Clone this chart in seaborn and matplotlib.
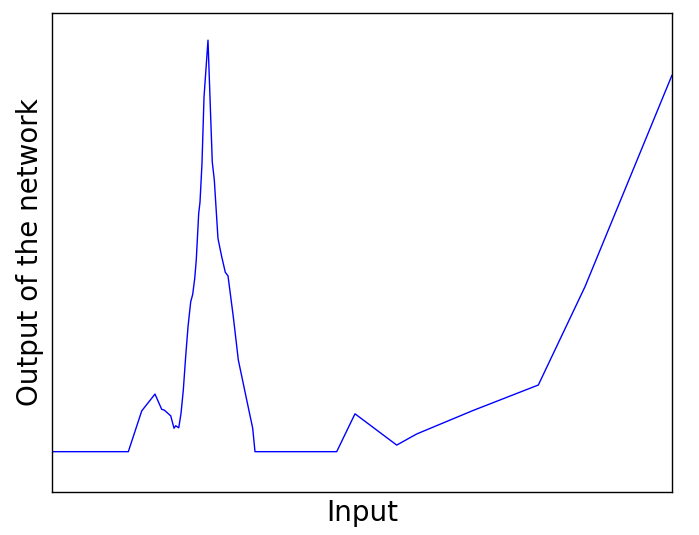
import matplotlib
matplotlib.use("Agg")
import matplotlib.pyplot as plt
import seaborn as sns
import pandas as pd

# network output sampled along the input axis (arbitrary units)
x_in = [0.0, 1.231, 1.447, 1.661, 1.769, 1.811, 1.915, 1.968, 1.995, 2.044,
        2.081, 2.118, 2.156, 2.194, 2.237, 2.269, 2.302, 2.327, 2.366, 2.387,
        2.419, 2.452, 2.516, 2.548, 2.585, 2.618, 2.677, 2.737, 2.795, 2.839,
        2.924, 3.005, 3.140, 3.237, 3.274, 4.592, 4.887, 5.560, 5.882, 6.790,
        7.844, 8.597, 10.0]
y_out = [0.0, 0.0, 0.099, 0.140, 0.103, 0.101, 0.087, 0.057, 0.063, 0.058,
         0.093, 0.150, 0.231, 0.304, 0.364, 0.382, 0.421, 0.466, 0.579, 0.606,
         0.700, 0.862, 1.0, 0.862, 0.704, 0.660, 0.518, 0.474, 0.436, 0.427,
         0.328, 0.223, 0.126, 0.057, 0.0, 0.0, 0.092, 0.016, 0.043, 0.100,
         0.162, 0.401, 0.915]

df = pd.DataFrame({"input": x_in, "output": y_out})

sns.set_style("white")
fig = plt.figure(figsize=(6.99, 5.35), dpi=100)
ax = fig.add_axes([52/699, 1-492/535, 620/699, 479/535])
sns.lineplot(data=df, x="input", y="output", color="blue", linewidth=1,
             estimator=None, sort=False, ax=ax)

ax.set_xlim(0, 10)
ax.set_ylim(-0.098, 1.066)
ax.set_xticks([])
ax.set_yticks([])
for s in ax.spines.values():
    s.set_color("black")
    s.set_linewidth(1)
ax.set_xlabel("Input", fontsize=20, color="black", labelpad=5)
ax.set_ylabel("Output of the network", fontsize=20, color="black", labelpad=6)

fig.savefig("out.png", dpi=100)
